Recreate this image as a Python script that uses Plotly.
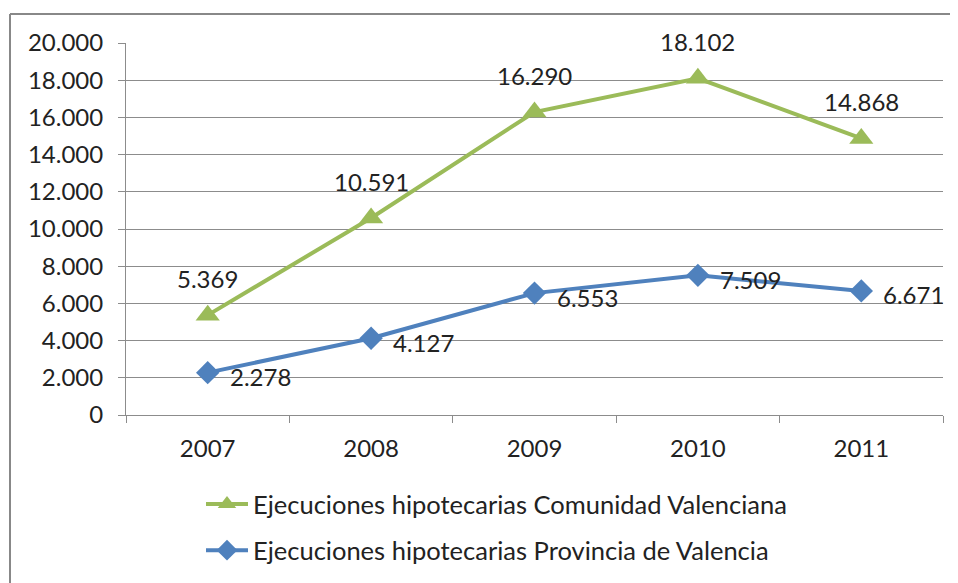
import plotly.graph_objects as go

years = ["2007", "2008", "2009", "2010", "2011"]
comunidad = [5369, 10591, 16290, 18102, 14868]
provincia = [2278, 4127, 6553, 7509, 6671]

name_comunidad = "Ejecuciones hipotecarias Comunidad Valenciana"
name_provincia = "Ejecuciones hipotecarias Provincia de Valencia"

font_family = "Lato"
text_color = "#222222"
grid_color = "#8c8c8c"


def es_num(v):
    # Spanish thousands separator
    return f"{v:,}".replace(",", ".")


fig = go.Figure()

# Comunidad Valenciana (green, triangles)
fig.add_trace(
    go.Scatter(
        x=years, y=comunidad, name=name_comunidad, legendgroup="a",
        mode="lines+markers",
        line=dict(color="#9BBB59", width=4),
        marker=dict(symbol="triangle-up", size=21, color="#9BBB59"),
    )
)

# Provincia de Valencia (blue, diamonds)
fig.add_trace(
    go.Scatter(
        x=years, y=provincia, name=name_provincia, legendgroup="b",
        mode="lines+markers",
        line=dict(color="#4F81BD", width=4),
        marker=dict(symbol="diamond", size=18, color="#4F81BD"),
    )
)

# data labels: green above, blue to the right (x given as category index)
for i, v in enumerate(comunidad):
    fig.add_annotation(x=i, y=v, text=es_num(v), showarrow=False,
                       yshift=37, font=dict(size=24, color=text_color))
for i, v in enumerate(provincia):
    fig.add_annotation(x=i, y=v, text=es_num(v), showarrow=False,
                       xanchor="left", xshift=20, yshift=-4,
                       font=dict(size=24, color=text_color))

# outer frame (only top and left edges visible in the picture)
fx = (10 - 126) / 817
fy = (415 - 14) / 372
fig.add_shape(type="line", xref="paper", yref="paper", x0=fx, x1=1.2, y0=fy, y1=fy,
              line=dict(color="#888888", width=2))
fig.add_shape(type="line", xref="paper", yref="paper", x0=fx, x1=fx, y0=fy, y1=-0.6,
              line=dict(color="#888888", width=2))

# page body has an 8px margin, so the figure is sized and placed to compensate
fig.update_layout(
    width=950, height=575,
    margin=dict(l=118, r=15, t=35, b=168, autoexpand=False),
    paper_bgcolor="white", plot_bgcolor="white",
    separators=",.",
    font=dict(family=font_family, size=24, color=text_color),
    showlegend=True,
    legend=dict(
        x=(201 - 126) / 817, y=(415 - 481) / 372, xanchor="left", yanchor="top",
        traceorder="grouped", tracegroupgap=10,
        font=dict(size=25.5, color=text_color, family=font_family),
        itemwidth=42, bgcolor="rgba(0,0,0,0)",
    ),
)

fig.update_xaxes(
    type="category", range=[-0.5, len(years) - 0.5],
    showgrid=False, showline=True, linecolor=grid_color, linewidth=1,
    ticks="outside", tickson="boundaries", ticklen=7, tickcolor=grid_color,
    ticklabelstandoff=12, tickfont=dict(size=24, color=text_color), tickangle=0,
)
fig.update_yaxes(
    range=[0, 20000], dtick=2000, tickformat=",d",
    showgrid=True, gridcolor=grid_color, gridwidth=1,
    showline=True, linecolor=grid_color, linewidth=1,
    ticks="outside", ticklen=7, tickcolor=grid_color,
    ticklabelstandoff=10, tickfont=dict(size=24, color=text_color),
    zeroline=False,
)

fig.write_html("out.html")
